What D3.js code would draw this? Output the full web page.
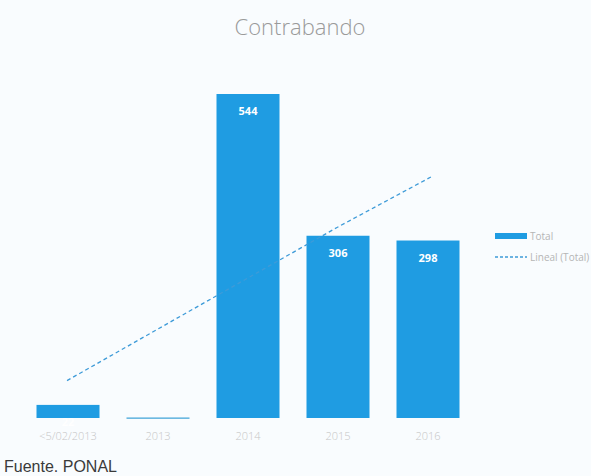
<!DOCTYPE html>
<html><head><meta charset="utf-8">
<script src="https://cdn.jsdelivr.net/npm/d3@7"></script>
<style>body{margin:0;background:#fff}svg{display:block}</style>
</head><body>
<svg id="c" width="591" height="476"></svg>
<script>
const categories = ["<5/02/2013", "2013", "2014", "2015", "2016"];
const totals = [22, 1, 544, 306, 298];
const valueLabels = ["22", "", "544", "306", "298"];
const legendLabels = ["Total", "Lineal (Total)"];
const title = "Contrabando";
const source = "Fuente. PONAL";

const svg = d3.select("#c");
svg.append("rect").attr("width",591).attr("height",476).attr("fill","#f9fcfe");

const x = d3.scaleBand().domain(categories).range([23,473]).paddingInner(0.3).paddingOuter(0.15);
const y = d3.scaleLinear().domain([0,544]).range([418,94]);
const blue = "#1f9ce2";

svg.append("text").attr("x",300).attr("y",35).attr("text-anchor","middle")
  .attr("font-family","Open Sans, sans-serif").attr("font-size",22).attr("font-weight",300)
  .attr("fill","#9a9a9a").text(title);

svg.selectAll("rect.bar").data(totals).join("rect").attr("class","bar")
  .attr("x",(d,i)=>x(categories[i])).attr("width",x.bandwidth())
  .attr("y",d=>y(d)).attr("height",d=>Math.max(1.5,418-y(d)))
  .attr("fill",(d,i)=>i===1?"#5fb3de":blue);

svg.selectAll("text.val").data(totals).join("text").attr("class","val")
  .attr("x",(d,i)=>x(categories[i])+x.bandwidth()/2).attr("y",d=>y(d)+21)
  .attr("text-anchor","middle").attr("font-family","Open Sans, sans-serif")
  .attr("font-size",11).attr("font-weight",700).attr("fill","#fff")
  .text((d,i)=>valueLabels[i]);

// linear trend
const n = totals.length, xs = d3.range(1,n+1);
const mx = d3.mean(xs), my = d3.mean(totals);
const slope = d3.sum(xs.map((v,i)=>(v-mx)*(totals[i]-my)))/d3.sum(xs.map(v=>(v-mx)**2));
const icpt = my - slope*mx;
const trend = xs.map(v=>icpt+slope*v);
svg.append("path").datum(trend)
  .attr("d",d3.line().x((d,i)=>x(categories[i])+x.bandwidth()/2+(i===n-1?4:-1)).y(d=>y(d)))
  .attr("fill","none").attr("stroke","#3e9bd8").attr("stroke-width",1.3).attr("stroke-dasharray","4,3");

// x axis labels
svg.selectAll("text.cat").data(categories).join("text").attr("class","cat")
  .attr("x",d=>x(d)+x.bandwidth()/2).attr("y",440).attr("text-anchor","middle")
  .attr("font-family","Open Sans, sans-serif").attr("font-size",11).attr("font-weight",300)
  .attr("fill","#c6c6c6").text(d=>d);

// legend
const lg = svg.append("g");
lg.append("rect").attr("x",495).attr("y",233).attr("width",32).attr("height",6).attr("fill",blue);
lg.append("text").attr("x",530).attr("y",240).attr("font-family","Open Sans, sans-serif")
  .attr("font-size",10).attr("fill","#b5b5b5").text(legendLabels[0]);
lg.append("line").attr("x1",495).attr("x2",527).attr("y1",257).attr("y2",257)
  .attr("stroke","#3e9bd8").attr("stroke-width",1.3).attr("stroke-dasharray","3,2");
lg.append("text").attr("x",530).attr("y",261).attr("font-family","Open Sans, sans-serif")
  .attr("font-size",10).attr("fill","#b5b5b5").text(legendLabels[1]);

svg.append("text").attr("x",4).attr("y",472).attr("font-family","Liberation Sans, Arial, sans-serif")
  .attr("font-size",16).attr("fill","#3a3a3a").text(source);
</script>
</body></html>
